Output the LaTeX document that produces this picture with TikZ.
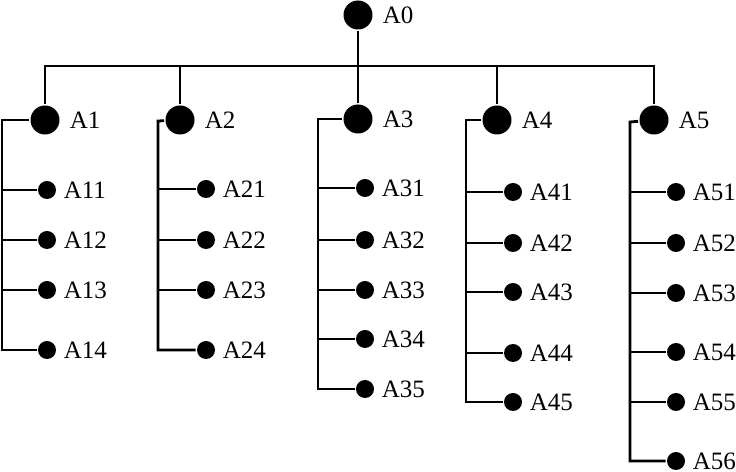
\documentclass[tikz,border=0pt]{standalone}
\usepackage{fontspec}
\setmainfont{Liberation Serif}

\tikzset{
  big/.style={circle, fill, inner sep=0pt, minimum size=14.5bp,
    label={[label distance=0.5bp, font=\fontsize{12.5bp}{14bp}\selectfont]right:#1}},
  leaf/.style={circle, fill, inner sep=0pt, minimum size=9bp,
    label={[label distance=0bp, inner xsep=2.5bp, inner ysep=0.5bp, font=\fontsize{12.5bp}{14bp}\selectfont]right:#1}},
}

\begin{document}
\begin{tikzpicture}[x=0.5bp, y=-0.5bp, line width=1.4pt]
  \useasboundingbox (0,0) rectangle (736,472);

  % Top levels
  \node[big=A0] (a0) at (358,15) {};
  \node[big=A1] (a1) at (45,120) {};
  \node[big=A2] (a2) at (180,120) {};
  \node[big=A3] (a3) at (358,119) {};
  \node[big=A4] (a4) at (497,120) {};
  \node[big=A5] (a5) at (654,120) {};

  % Bus
  \coordinate (bus) at (0,66);
  \draw (a0) -- (a3);
  \draw (a1) -- (a1 |- bus) -- (a5 |- bus) -- (a5);
  \draw (a2) -- (a2 |- bus);
  \draw (a4) -- (a4 |- bus);

  % Branch A1
  \node[leaf=A11] (a11) at (47,190) {};
  \node[leaf=A12] (a12) at (47,240) {};
  \node[leaf=A13] (a13) at (47,290) {};
  \node[leaf=A14] (a14) at (47,350) {};
  \coordinate (s1) at (2,120);
  \draw (a1) -- (s1) |- (a14);
  \draw (s1 |- a11) -- (a11);
  \draw (s1 |- a12) -- (a12);
  \draw (s1 |- a13) -- (a13);

  % Branch A2
  \node[leaf=A21] (a21) at (206,189) {};
  \node[leaf=A22] (a22) at (206,240) {};
  \node[leaf=A23] (a23) at (206,290) {};
  \node[leaf=A24] (a24) at (206,350) {};
  \coordinate (s2) at (158,121);
  \draw (a2) -- (s2) |- (a24);
  \draw (s2 |- a21) -- (a21);
  \draw (s2 |- a22) -- (a22);
  \draw (s2 |- a23) -- (a23);

  % Branch A3
  \node[leaf=A31] (a31) at (365,188) {};
  \node[leaf=A32] (a32) at (365,240) {};
  \node[leaf=A33] (a33) at (365,290) {};
  \node[leaf=A34] (a34) at (365,339) {};
  \node[leaf=A35] (a35) at (365,389) {};
  \coordinate (s3) at (318,119);
  \draw (a3) -- (s3) |- (a35);
  \draw (s3 |- a31) -- (a31);
  \draw (s3 |- a32) -- (a32);
  \draw (s3 |- a33) -- (a33);
  \draw (s3 |- a34) -- (a34);

  % Branch A4
  \node[leaf=A41] (a41) at (513,192) {};
  \node[leaf=A42] (a42) at (513,243) {};
  \node[leaf=A43] (a43) at (513,292) {};
  \node[leaf=A44] (a44) at (513,353) {};
  \node[leaf=A45] (a45) at (513,402) {};
  \coordinate (s4) at (466,120);
  \draw (a4) -- (s4) |- (a45);
  \draw (s4 |- a41) -- (a41);
  \draw (s4 |- a42) -- (a42);
  \draw (s4 |- a43) -- (a43);
  \draw (s4 |- a44) -- (a44);

  % Branch A5
  \node[leaf=A51] (a51) at (676,192) {};
  \node[leaf=A52] (a52) at (676,243) {};
  \node[leaf=A53] (a53) at (676,293) {};
  \node[leaf=A54] (a54) at (676,352) {};
  \node[leaf=A55] (a55) at (676,402) {};
  \node[leaf=A56] (a56) at (676,461) {};
  \coordinate (s5) at (630,122);
  \draw (a5) -- (s5) |- (a56);
  \draw (s5 |- a51) -- (a51);
  \draw (s5 |- a52) -- (a52);
  \draw (s5 |- a53) -- (a53);
  \draw (s5 |- a54) -- (a54);
  \draw (s5 |- a55) -- (a55);
\end{tikzpicture}
\end{document}
